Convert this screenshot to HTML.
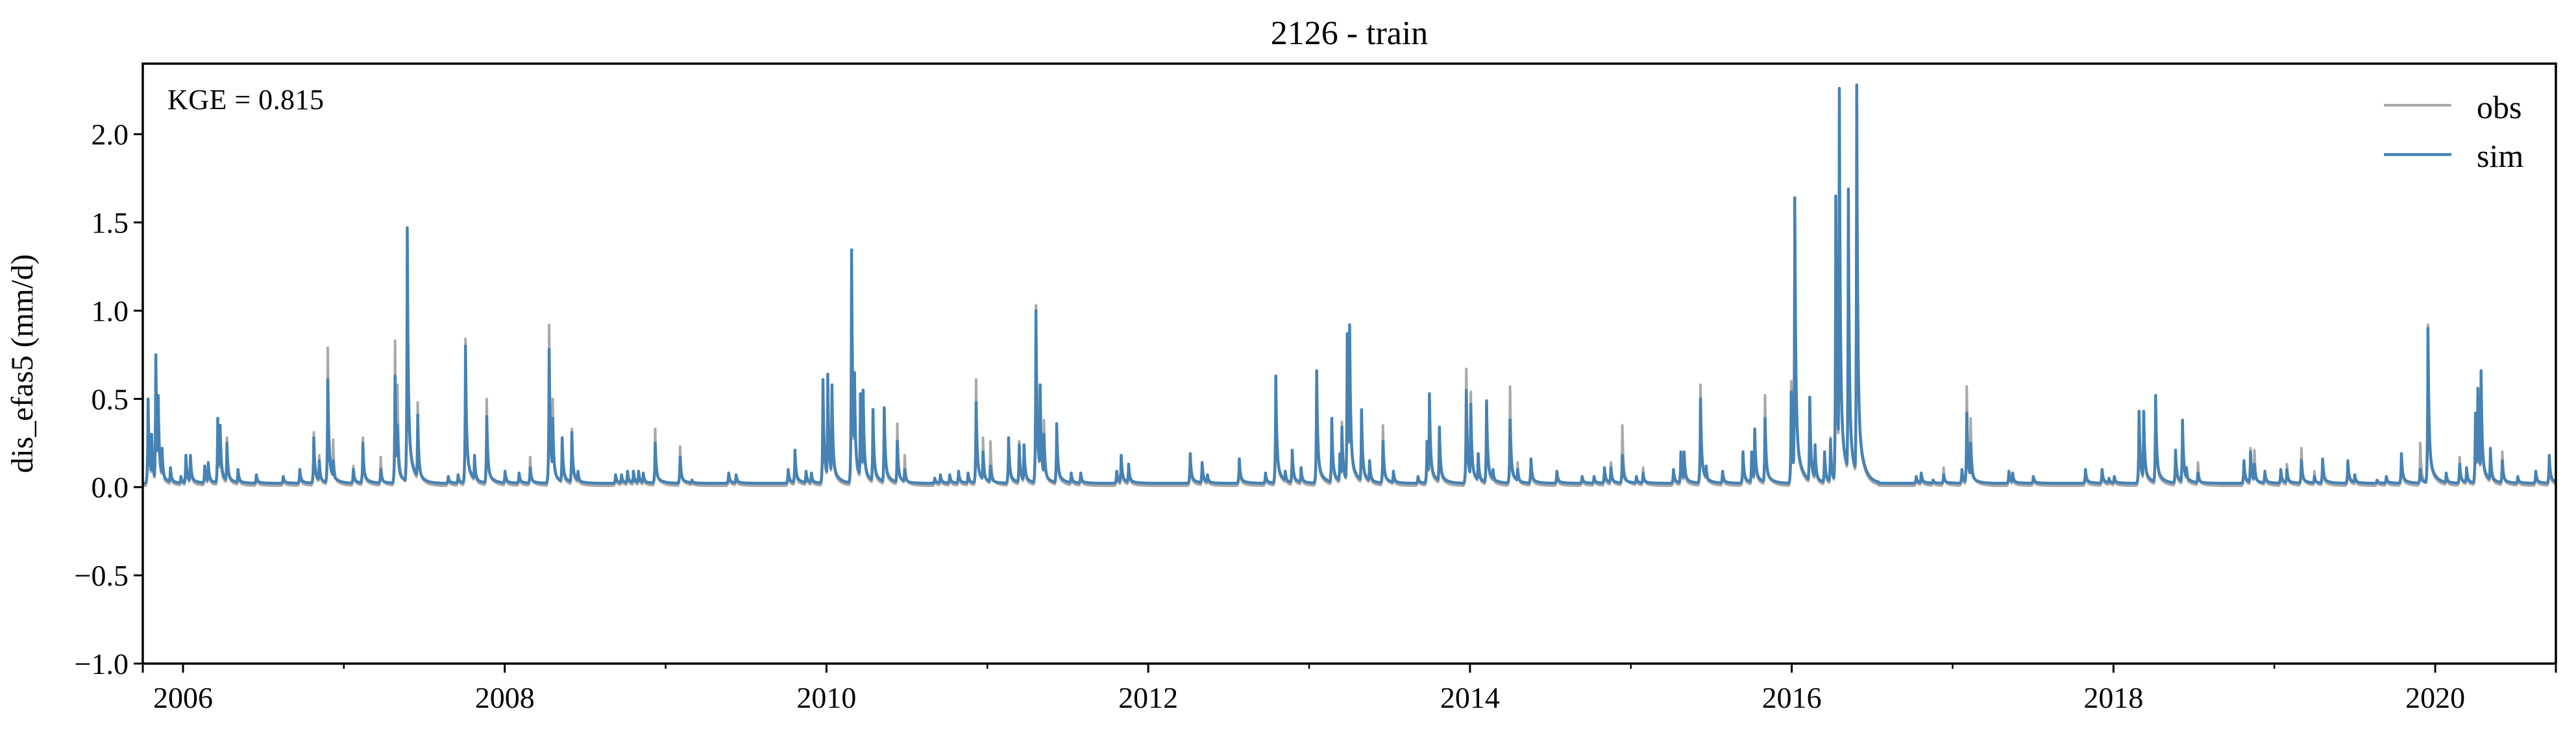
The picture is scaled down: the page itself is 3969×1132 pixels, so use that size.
<!DOCTYPE html>
<html><head><meta charset="utf-8"><style>
html,body{margin:0;padding:0;background:#fff;}
svg{display:block;font-family:"Liberation Serif",serif;}
</style></head><body>
<svg id="chart" width="3969" height="1132" viewBox="0 0 3969 1132" xmlns="http://www.w3.org/2000/svg">
<text x="2079" y="68" font-size="52" text-anchor="middle">2126 - train</text>
<text transform="translate(50,560) rotate(-90)" font-size="48" text-anchor="middle">dis_efas5 (mm/d)</text>
<g id="plot"></g>
<g id="axes"></g>
<text x="258" y="168" font-size="44" textLength="241">KGE = 0.815</text>
<g>
  <line x1="3673" y1="162" x2="3777" y2="162" stroke="#a9a9a9" stroke-width="4"/>
  <text x="3816" y="182" font-size="50">obs</text>
  <line x1="3673" y1="238" x2="3777" y2="238" stroke="#4682b4" stroke-width="4.5"/>
  <text x="3816" y="257" font-size="50">sim</text>
</g>
</svg>
<script>
const eventYear = [2005.783,2005.805,2005.831,2005.846,2005.87,2005.922,2005.987,2006.018,2006.046,2006.135,2006.157,2006.216,2006.231,2006.273,2006.342,2006.456,2006.623,2006.726,2006.813,2006.847,2006.90,2006.933,2007.059,2007.118,2007.229,2007.318,2007.333,2007.394,2007.459,2007.649,2007.71,2007.756,2007.812,2007.888,2008.002,2008.089,2008.158,2008.276,2008.298,2008.357,2008.417,2008.455,
2008.689,2008.726,2008.763,2008.80,2008.832,2008.861,2008.935,2009.09,2009.164,2009.392,2009.438,2009.762,2009.804,2009.873,2009.906,2009.978,2010.008,2010.034,2010.156,2010.174,2010.211,2010.228,2010.289,2010.359,2010.44,2010.486,2010.673,2010.708,2010.766,2010.821,2010.88,2010.93,2010.973,2011.019,2011.132,2011.198,2011.228,2011.302,2011.328,2011.352,2011.431,
2011.521,2011.58,2011.804,2011.832,2011.878,2012.261,2012.335,2012.368,2012.566,2012.729,2012.793,2012.852,2012.895,2012.95,2013.047,2013.141,2013.191,2013.204,2013.237,2013.252,2013.326,2013.376,2013.459,2013.524,2013.677,2013.733,2013.748,2013.81,2013.977,2014.005,2014.051,2014.103,2014.143,2014.249,
2014.296,2014.379,2014.54,2014.697,2014.771,2014.836,2014.876,2014.947,2015.034,2015.076,2015.265,2015.311,2015.331,2015.433,2015.468,2015.57,2015.697,2015.751,2015.77,2015.834,2015.997,2016.019,2016.112,2016.145,2016.204,2016.241,2016.274,2016.296,2016.352,2016.404,2016.454,2016.774,2016.805,2016.879,2016.944,2017.058,2017.088,
2017.112,2017.35,2017.373,2017.502,2017.826,2017.929,2017.972,2018.005,2018.159,2018.188,2018.262,2018.386,2018.429,2018.454,2018.525,2018.811,2018.852,2018.876,2018.941,
2019.04,2019.078,2019.168,2019.249,2019.30,2019.457,2019.50,2019.638,2019.696,2019.79,2019.907,2019.955,2020.068,2020.152,2020.195,2020.25,2020.265,2020.285,2020.343,2020.417,2020.513,2020.625,2020.709];
const simPeak = [.50,.30,.75,.52,.22,.11,.06,.18,.18,.12,.14,.39,.35,.25,.10,.07,.06,.10,.28,.15,.61,.15,.10,.25,.10,.63,.35,1.47,.41,.06,.07,.80,.18,.40,.09,.08,.11,.78,.39,.28,.31,.09,
.07,.07,.09,.09,.09,.08,.25,.17,.04,.08,.07,.10,.21,.09,.08,.61,.64,.58,1.345,.65,.53,.55,.44,.45,.26,.10,.05,.07,.07,.09,.08,.48,.20,.12,.28,.24,.24,1.0,.58,.30,.36,
.08,.08,.09,.18,.13,.19,.14,.07,.16,.08,.63,.09,.21,.11,.66,.39,.19,.34,.87,.92,.44,.15,.26,.09,.06,.26,.53,.34,.55,.47,.19,.49,.10,.38,
.10,.16,.09,.06,.06,.11,.11,.18,.06,.08,.10,.20,.20,.50,.12,.09,.20,.20,.33,.39,.54,1.64,.51,.24,.20,.27,1.65,2.26,1.69,2.28,.10,.06,.08,.04,.07,.10,.42,
.25,.09,.08,.06,.10,.10,.05,.06,.43,.43,.52,.21,.38,.11,.08,.15,.20,.13,.09,
.10,.10,.15,.06,.16,.15,.07,.04,.06,.19,.10,.90,.08,.13,.11,.42,.56,.66,.22,.15,.06,.09,.18];
const obsPeak = [.50,.30,.75,.52,.22,.11,.06,.18,.18,.12,.14,.37,.33,.28,.10,.07,.06,.10,.31,.18,.79,.27,.12,.28,.17,.83,.58,1.45,.48,.06,.07,.84,.18,.50,.09,.08,.17,.92,.50,.28,.33,.09,
.07,.07,.09,.09,.09,.08,.33,.23,.04,.08,.07,.10,.21,.09,.08,.61,.64,.58,1.30,.65,.53,.55,.44,.45,.36,.18,.05,.07,.07,.09,.08,.61,.28,.26,.28,.26,.24,1.03,.58,.38,.36,
.08,.08,.09,.18,.13,.19,.14,.07,.16,.08,.63,.09,.21,.11,.66,.39,.19,.37,.87,.92,.44,.15,.35,.09,.06,.26,.53,.34,.67,.54,.19,.49,.10,.57,
.14,.16,.09,.06,.06,.11,.14,.35,.06,.11,.10,.20,.18,.58,.12,.09,.20,.20,.33,.52,.60,1.64,.51,.24,.20,.28,1.60,2.25,1.65,2.27,.10,.06,.08,.04,.11,.10,.57,
.39,.09,.08,.06,.10,.10,.05,.06,.43,.43,.52,.21,.38,.11,.14,.15,.22,.21,.09,
.10,.13,.22,.09,.16,.15,.07,.04,.06,.19,.25,.92,.08,.17,.11,.42,.56,.66,.22,.20,.06,.09,.18];
const yTicks = [-1.0,-0.5,0.0,0.5,1.0,1.5,2.0];
const yTickLabels = ["\u22121.0","\u22120.5","0.0","0.5","1.0","1.5","2.0"];
const xMajorYears = [2006,2008,2010,2012,2014,2016,2018,2020];
const xMinorYears = [2007,2009,2011,2013,2015,2017,2019];
const simBase = 0.022, obsBase = 0.008;

const NS="http://www.w3.org/2000/svg";
const L=220,R=3938,T=98,B=1022,X0=2005.75,X1=2020.75,Y0=-1.0,Y1=2.4;
function xs(t){return L+(t-X0)/(X1-X0)*(R-L);}
function ys(v){return B-(v-Y0)/(Y1-Y0)*(B-T);}
function series(peaks,base){
  const times=[];const nDays=Math.round((X1-X0)*365.25);
  for(let d=0;d<=nDays;d+=0.5)times.push(X0+d/365.25);
  eventYear.forEach(e=>times.push(e));
  times.sort((a,b)=>a-b);
  const pts=[];
  for(const t of times){
    let m=0;
    for(let i=0;i<eventYear.length;i++){
      const dt=(t-eventYear[i])*365.25;if(dt<-6||dt>50)continue;
      const a=peaks[i]-base;
      const f=dt<0?Math.exp(dt/1.1):(0.8*Math.exp(-dt/2.2)+0.2*Math.exp(-dt/12));
      if(a*f>m)m=a*f;
    }
    pts.push(xs(t).toFixed(1)+","+ys(base+m).toFixed(1));
  }
  return pts.join(" ");
}
const plot=document.getElementById('plot');
const cp=document.createElementNS(NS,'clipPath');cp.setAttribute('id','clip');
const cr=document.createElementNS(NS,'rect');cr.setAttribute('x',L);cr.setAttribute('y',T);cr.setAttribute('width',R-L);cr.setAttribute('height',B-T);
cp.appendChild(cr);plot.appendChild(cp);
const obsLine=document.createElementNS(NS,'polyline');


obsLine.setAttribute('points',series(obsPeak,obsBase));
obsLine.setAttribute('fill','none');obsLine.setAttribute('stroke','#a9a9a9');obsLine.setAttribute('stroke-width','4');obsLine.setAttribute('stroke-linejoin','round');obsLine.setAttribute('clip-path','url(#clip)');
plot.appendChild(obsLine);
const simLine=document.createElementNS(NS,'polyline');


simLine.setAttribute('points',series(simPeak,simBase));
simLine.setAttribute('fill','none');simLine.setAttribute('stroke','#4682b4');simLine.setAttribute('stroke-width','4.5');simLine.setAttribute('stroke-linejoin','round');simLine.setAttribute('clip-path','url(#clip)');
plot.appendChild(simLine);

const axes=document.getElementById('axes');
const frame=document.createElementNS(NS,'rect');


frame.setAttribute('x',L);frame.setAttribute('y',T);frame.setAttribute('width',R-L);frame.setAttribute('height',B-T);
frame.setAttribute('fill','none');frame.setAttribute('stroke','#000');frame.setAttribute('stroke-width','3.5');
axes.appendChild(frame);
function line(x1,y1,x2,y2,w,name){const l=document.createElementNS(NS,'line');


l.setAttribute('x1',x1);l.setAttribute('y1',y1);l.setAttribute('x2',x2);l.setAttribute('y2',y2);l.setAttribute('stroke','#000');l.setAttribute('stroke-width',w);axes.appendChild(l);}
function text(x,y,s,anchor,name){const t=document.createElementNS(NS,'text');


t.setAttribute('x',x);t.setAttribute('y',y);t.setAttribute('font-size','46');t.setAttribute('text-anchor',anchor);t.textContent=s;axes.appendChild(t);}
yTicks.forEach((v,i)=>{const y=ys(v);line(L-14,y,L,y,3,'y-tick');text(L-22,y+16,yTickLabels[i],'end','y-tick-label');});
xMajorYears.forEach(yr=>{const x=xs(yr);line(x,B,x,B+14,3,'x-tick');text(x,B+68,String(yr),'middle','x-tick-label');});
xMinorYears.forEach(yr=>{const x=xs(yr);line(x,B,x,B+8,2.5,'x-minor-tick');});
line(L,B,L,B+14,3,'x-axis-start-tick');
line(R,B,R,B+14,3,'x-axis-end-tick');
</script>
</body></html>
